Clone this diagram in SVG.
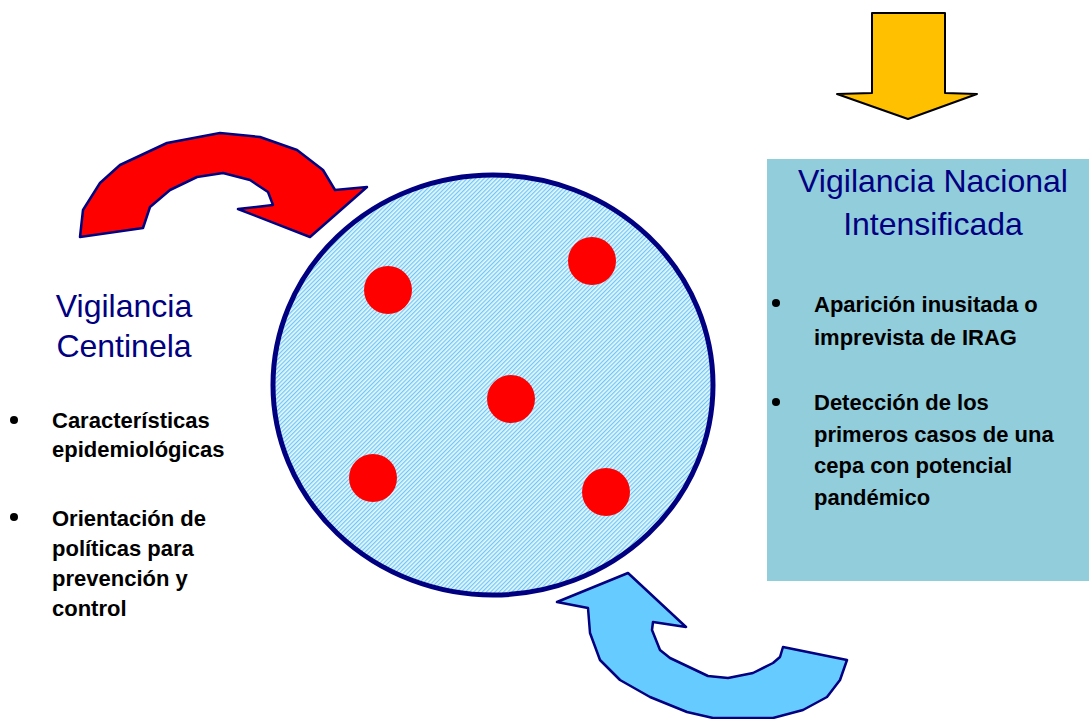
<svg xmlns="http://www.w3.org/2000/svg" width="1089" height="719" viewBox="0 0 1089 719">
<style>
.title{font-family:"Liberation Sans",Arial,sans-serif;font-size:32px;fill:#000080;text-anchor:middle}
.body{font-family:"Liberation Sans",Arial,sans-serif;font-size:22px;font-weight:bold;fill:#000}
.dot{fill:#ff0000}
.bullet{fill:#000}
</style>
<defs>
<pattern id="hatch" width="3" height="3" patternUnits="userSpaceOnUse" patternTransform="rotate(45)">
<rect width="3" height="3" fill="#e6f6fe"/>
<rect x="0" y="0" width="1.2" height="3" fill="#6cc8f4"/>
</pattern>
</defs>
<rect width="1089" height="719" fill="#ffffff"/>

<g id="box-nacional">
<rect x="767" y="159" width="322" height="422" fill="#92cddc"/>
<text class="title" x="933" y="192">Vigilancia Nacional</text>
<text class="title" x="933" y="235">Intensificada</text>
<circle class="bullet" cx="776" cy="303" r="4"/>
<text class="body" x="814" y="312">Aparición inusitada o</text>
<text class="body" x="814" y="345">imprevista de IRAG</text>
<circle class="bullet" cx="776" cy="402" r="4"/>
<text class="body" x="814" y="410">Detección de los</text>
<text class="body" x="814" y="442">primeros casos de una</text>
<text class="body" x="814" y="473">cepa con potencial</text>
<text class="body" x="814" y="505">pandémico</text>
</g>

<g id="centinela">
<text class="title" x="124" y="317">Vigilancia</text>
<text class="title" x="124" y="357">Centinela</text>
<circle class="bullet" cx="14" cy="420" r="4"/>
<text class="body" x="52" y="428">Características</text>
<text class="body" x="52" y="457">epidemiológicas</text>
<circle class="bullet" cx="14" cy="517" r="4"/>
<text class="body" x="52" y="526">Orientación de</text>
<text class="body" x="52" y="556">políticas para</text>
<text class="body" x="52" y="586">prevención y</text>
<text class="body" x="52" y="616">control</text>
</g>

<g id="circle-node">
<ellipse cx="493" cy="385" rx="220" ry="210" fill="url(#hatch)" stroke="#000080" stroke-width="5"/>
<circle class="dot" cx="388" cy="290" r="24"/>
<circle class="dot" cx="592" cy="261" r="24"/>
<circle class="dot" cx="511" cy="399" r="24"/>
<circle class="dot" cx="373" cy="478" r="24"/>
<circle class="dot" cx="606" cy="492" r="24"/>
</g>

<g id="connectors">
<polygon id="arrow-red" points="80,237 83,210 100,183 120,165 167,143 220,133 260,137 297,150 323,170 335,190 367,187 310,237 238,209 273,205 268,192 250,180 223,173 197,177 170,190 150,207 143,228" fill="#ff0000" stroke="#000080" stroke-width="2.5" stroke-linejoin="round"/>
<polygon id="arrow-blue" points="557,602 628,573 686,627 653,622 652,630 660,650 670,658 708,676 728,678 753,673 773,663 780,657 783,647 847,660 840,680 827,697 803,710 773,718 713,718 687,712 650,697 620,680 600,660 590,633 588,608" fill="#66ccff" stroke="#000080" stroke-width="2.5" stroke-linejoin="round"/>
<polygon id="arrow-yellow" points="872,13 945,13 945,93 977,94 908,119 837,94 872,93" fill="#ffc000" stroke="#000000" stroke-width="2" stroke-linejoin="round"/>
</g>
</svg>
